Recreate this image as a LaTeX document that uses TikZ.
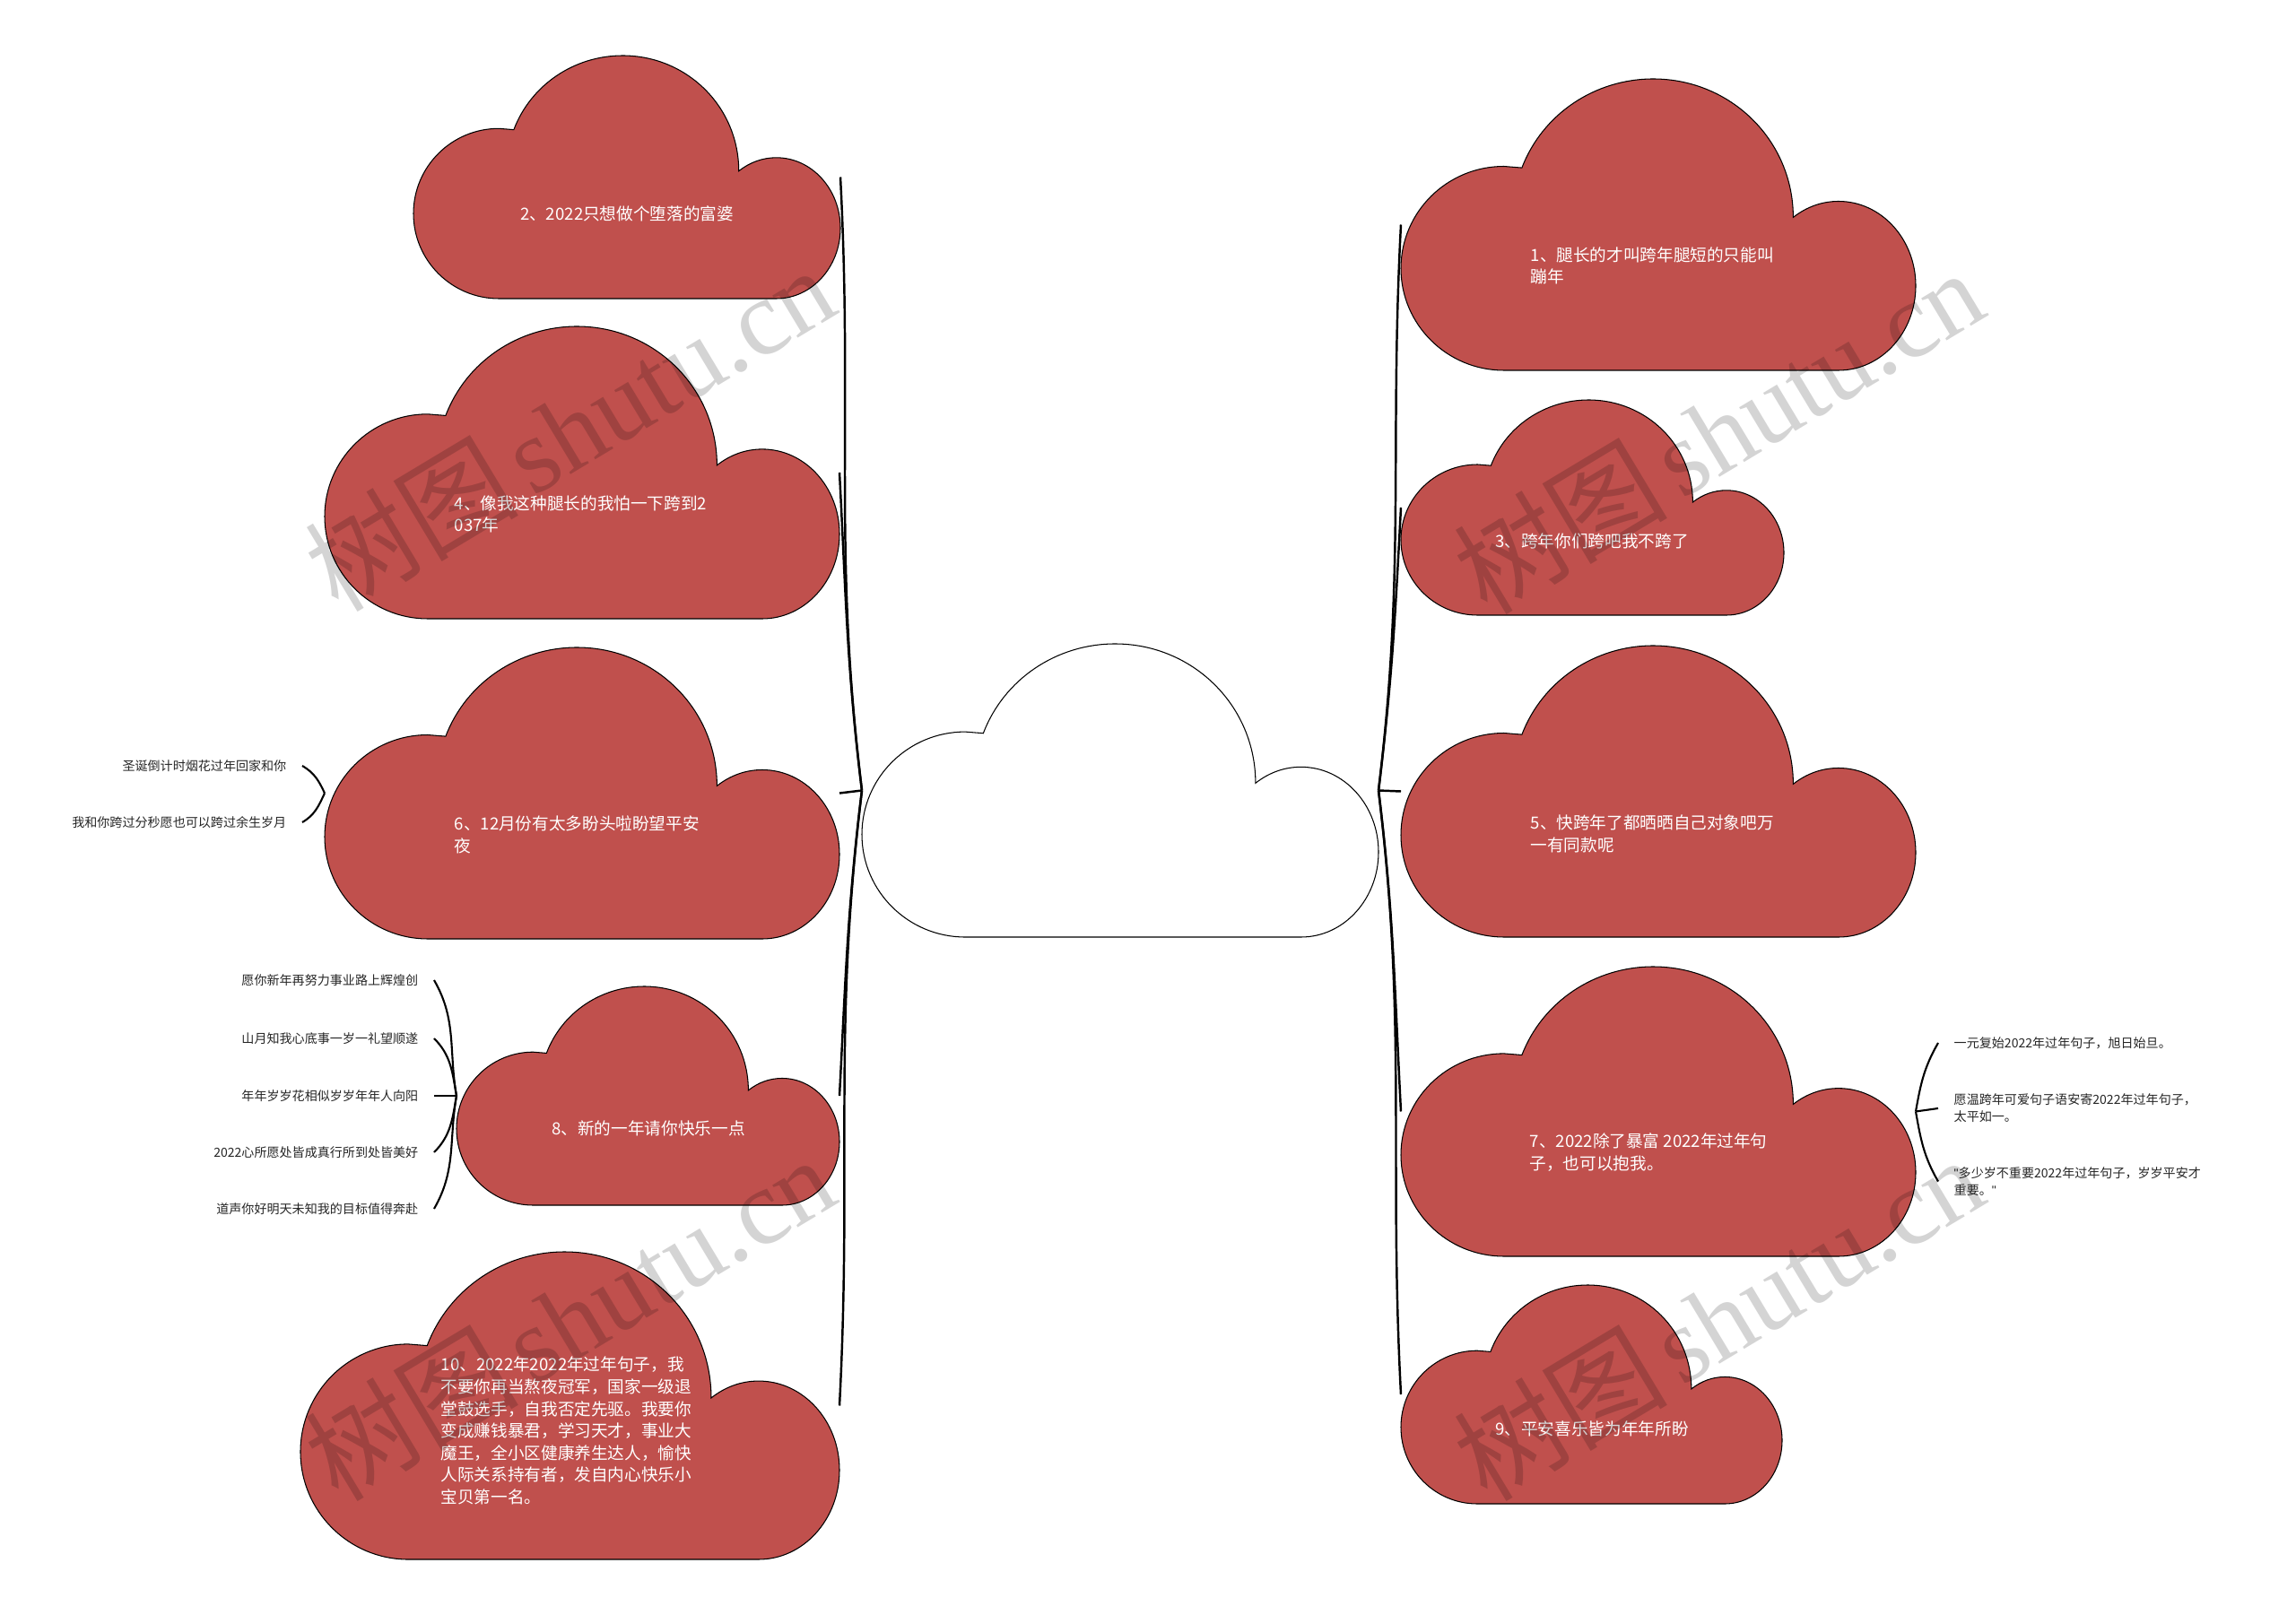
\documentclass[tikz,border=0pt]{standalone}
\usepackage{fontspec}
\setmainfont{Noto Sans CJK SC}
\newfontfamily\wmlatin{Liberation Serif}
\newfontfamily\leaflatin{Liberation Sans}
\definecolor{cloudred}{HTML}{C0504D}

\begin{document}
\begin{tikzpicture}[x=1cm, y=1cm,
    link/.style={draw=black, line width=0.7pt},
    brace/.style={draw=black, line width=0.6pt},
    cloudtext/.style={text=white, font=\fontsize{5.3}{7}\selectfont, inner sep=0pt, align=left},
    leaf/.style={text=black!85, font=\fontsize{4}{5.4}\selectfont, inner sep=0.17cm, align=left},
    wmark/.style={text=black, text opacity=0.17, font=\fontsize{34}{34}\selectfont, rotate=31, anchor=base, inner sep=0pt},
    pics/bigcloud/.style={code={
      \filldraw[fill=#1, draw=black, line width=0.3pt]
        (-0.3,-0.5) .. controls (-0.4105,-0.5) and (-0.5,-0.343) .. (-0.5,-0.15)
        .. controls (-0.5,0.043) and (-0.4105,0.2) .. (-0.3,0.2)
        -- (-0.265,0.195)
        .. controls (-0.225,0.38) and (-0.123,0.5) .. (-0.01,0.5)
        .. controls (0.14,0.5) and (0.262,0.29) .. (0.262,0.025)
        .. controls (0.288,0.061) and (0.318,0.08) .. (0.35,0.08)
        .. controls (0.433,0.08) and (0.5,-0.05) .. (0.5,-0.21)
        .. controls (0.5,-0.37) and (0.433,-0.5) .. (0.35,-0.5)
        -- cycle;
      \coordinate (-west) at (-0.5,0);
      \coordinate (-east) at (0.5,0);
    }}]

    \useasboundingbox (0,0) rectangle (25.6,18);
    \fill[white] (0,0) rectangle (25.6,18);

    % clouds
    \pic[xscale=5.76, yscale=3.27] (c0) at (12.49,9.185) {bigcloud=white};
    \pic[xscale=5.74, yscale=3.25] (c1) at (18.49,15.495) {bigcloud=cloudred};
    \pic[xscale=4.76, yscale=2.71] (c2) at (6.99,16.025) {bigcloud=cloudred};
    \pic[xscale=4.27, yscale=2.40] (c3) at (17.755,12.34) {bigcloud=cloudred};
    \pic[xscale=5.74, yscale=3.26] (c4) at (6.49,12.73) {bigcloud=cloudred};
    \pic[xscale=5.74, yscale=3.25] (c5) at (18.49,9.175) {bigcloud=cloudred};
    \pic[xscale=5.74, yscale=3.25] (c6) at (6.49,9.155) {bigcloud=cloudred};
    \pic[xscale=5.74, yscale=3.23] (c7) at (18.49,5.605) {bigcloud=cloudred};
    \pic[xscale=4.27, yscale=2.44] (c8) at (7.225,5.78) {bigcloud=cloudred};
    \pic[xscale=4.25, yscale=2.44] (c9) at (17.745,2.45) {bigcloud=cloudred};
    \pic[xscale=6.01, yscale=3.43] (c10) at (6.355,2.325) {bigcloud=cloudred};

    % cloud texts
    \node[cloudtext, anchor=west] (t1) at (17.06,15.035) {1、腿长的才叫跨年腿短的只能叫\\蹦年};
    \node[cloudtext] (t2) at (6.99,15.62) {2、2022只想做个堕落的富婆};
    \node[cloudtext] (t3) at (17.75,11.97) {3、跨年你们跨吧我不跨了};
    \node[cloudtext, anchor=west] (t4) at (5.06,12.265) {4、像我这种腿长的我怕一下跨到2\\037年};
    \node[cloudtext, anchor=west] (t5) at (17.06,8.70) {5、快跨年了都晒晒自己对象吧万\\一有同款呢};
    \node[cloudtext, anchor=west] (t6) at (5.06,8.69) {6、12月份有太多盼头啦盼望平安\\夜};
    \node[cloudtext, anchor=west] (t7) at (17.05,5.15) {7、2022除了暴富 2022年过年句\\子，也可以抱我。};
    \node[cloudtext] (t8) at (7.23,5.42) {8、新的一年请你快乐一点};
    \node[cloudtext] (t9) at (17.75,2.07) {9、平安喜乐皆为年年所盼};
    \node[cloudtext, anchor=west] (t10) at (4.91,2.045) {10、2022年2022年过年句子，我\\不要你再当熬夜冠军，国家一级退\\堂鼓选手，自我否定先驱。我要你\\变成赚钱暴君，学习天才，事业大\\魔王，全小区健康养生达人，愉快\\人际关系持有者，发自内心快乐小\\宝贝第一名。};

    % leaves
    \node[leaf, anchor=east] (k61) at (3.37,9.46) {圣诞倒计时烟花过年回家和你};
    \node[leaf, anchor=east] (k62) at (3.37,8.83) {我和你跨过分秒愿也可以跨过余生岁月};
    \node[leaf, anchor=east] (k81) at (4.84,7.07) {愿你新年再努力事业路上辉煌创};
    \node[leaf, anchor=east] (k82) at (4.84,6.42) {山月知我心底事一岁一礼望顺遂};
    \node[leaf, anchor=east] (k83) at (4.84,5.78) {年年岁岁花相似岁岁年年人向阳};
    \node[leaf, anchor=east] (k84) at (4.84,5.15) {2022心所愿处皆成真行所到处皆美好};
    \node[leaf, anchor=east] (k85) at (4.84,4.52) {道声你好明天未知我的目标值得奔赴};
    \node[leaf, anchor=west] (k71) at (21.61,6.37) {一元复始2022年过年句子，旭日始旦。};
    \node[leaf, anchor=west] (k72) at (21.61,5.64) {愿温跨年可爱句子语安寄2022年过年句子，\\太平如一。};
    \node[leaf, anchor=west] (k73) at (21.61,4.825) {{\leaflatin"}多少岁不重要2022年过年句子，岁岁平安才\\重要。{\leaflatin"}};

    % main links
    \path[link]
    (c0-west) edge[out=97, in=-87] (c2-east)
              edge[out=97, in=-87] (c4-east)
              edge (c6-east)
              edge[out=-97, in=87] (c8-east)
              edge[out=-97, in=87] (c10-east)
    (c0-east) edge[out=83, in=-93] (c1-west)
              edge[out=83, in=-93] (c3-west)
              edge (c5-west)
              edge[out=-83, in=93] (c7-west)
              edge[out=-83, in=93] (c9-west);

    % leaf braces
    \path[brace]
    (c6-west) edge[out=115, in=-30] (k61.east)
              edge[out=-115, in=30] (k62.east)
    (c8-west) edge[out=100, in=-60] (k81.east)
              edge[out=100, in=-45] (k82.east)
              edge (k83.east)
              edge[out=-100, in=45] (k84.east)
              edge[out=-100, in=60] (k85.east)
    (c7-east) edge[out=80, in=-120] (k71.west)
              edge (k72.west)
              edge[out=-80, in=120] (k73.west);

    % watermarks
    \node[wmark] (wm1) at (6.58,12.84) {树图\hspace{0.12em}{\wmlatin shutu.cn}};
    \node[wmark] (wm2) at (19.39,12.81) {树图\hspace{0.12em}{\wmlatin shutu.cn}};
    \node[wmark] (wm3) at (6.58,2.92) {树图\hspace{0.12em}{\wmlatin shutu.cn}};
    \node[wmark] (wm4) at (19.39,2.92) {树图\hspace{0.12em}{\wmlatin shutu.cn}};

\end{tikzpicture}
\end{document}
